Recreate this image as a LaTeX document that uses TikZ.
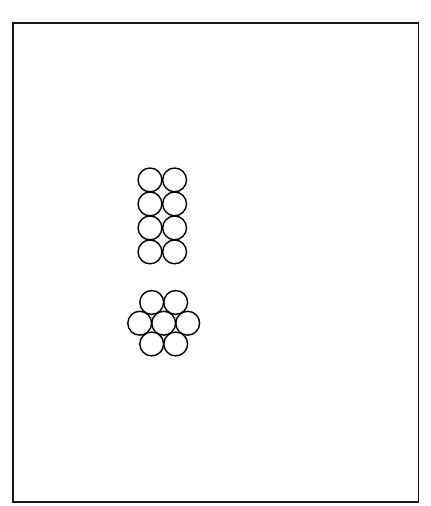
\documentclass[tikz,border=0pt]{standalone}
\usetikzlibrary{calc}
\begin{document}
\begin{tikzpicture}[x=1bp,y=-1bp,
  ring/.style={draw=black,line width=1.4bp},
  frame/.style={draw=black!90,line width=1.5bp}]
\useasboundingbox (0,0) rectangle (430,506);
\draw[frame] (12.8,23.2) rectangle (418.7,501.8);
% grid of circles
\foreach \i in {0,1,2,3}{
  \draw[ring] (150.0,179.9+24*\i) circle (11.9);
  \draw[ring] (174.6,179.9+24*\i) circle (11.9);
}
% hexagonal cluster
\def\cx{163.7}\def\cy{323.2}
\draw[ring] (\cx,\cy) circle (11.9);
\foreach \a in {0,60,...,300}{
  \draw[ring] ($(\cx,\cy)+(\a:24)$) circle (11.9);
}
\end{tikzpicture}
\end{document}
